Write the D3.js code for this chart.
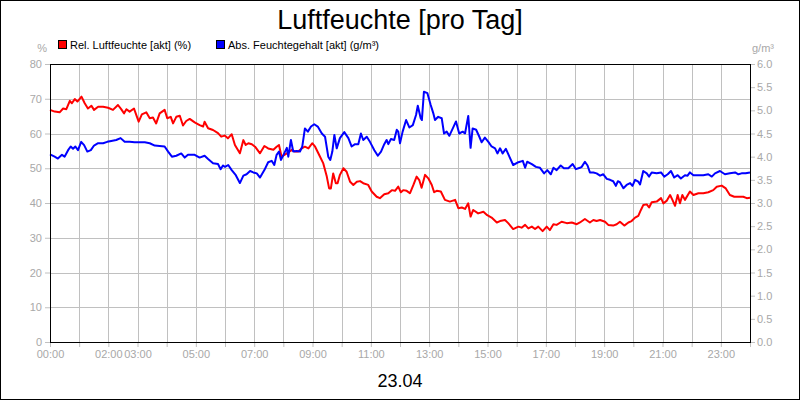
<!DOCTYPE html>
<html>
<head>
<meta charset="utf-8">
<script src="https://cdn.jsdelivr.net/npm/d3@7/dist/d3.min.js"></script>
<style>
  html, body { margin: 0; padding: 0; background: #fff; }
  svg { display: block; font-family: "Liberation Sans", Arial, sans-serif; }
</style>
</head>
<body>
<svg id="chart" width="800" height="400"></svg>
<script>
// ---- data (hours since 00:00 on 23.04) ----
const title = "Luftfeuchte [pro Tag]";
const dateLabel = "23.04";
const seriesNames = ["Rel. Luftfeuchte [akt] (%)", "Abs. Feuchtegehalt [akt] (g/m³)"];
const xTickLabels = ["00:00","02:00","03:00","05:00","07:00","09:00","11:00","13:00","15:00","17:00","19:00","21:00","23:00"];
const xTickLabelHours = [0,2,3,5,7,9,11,13,15,17,19,21,23];
const leftTicks = [0,10,20,30,40,50,60,70,80];
const rightTicks = [0,0.5,1,1.5,2,2.5,3,3.5,4,4.5,5,5.5,6];

const relTimes = [0.00,0.16,0.33,0.45,0.56,0.68,0.75,0.85,0.94,1.08,1.19,1.30,1.42,1.51,1.65,1.82,1.99,2.16,2.33,2.44,2.54,2.62,2.73,2.88,2.96,3.04,3.15,3.30,3.42,3.53,3.64,3.76,3.93,4.02,4.14,4.22,4.33,4.45,4.56,4.67,4.79,4.96,5.13,5.25,5.30,5.42,5.59,5.76,5.87,5.99,6.10,6.23,6.34,6.51,6.63,6.71,6.80,6.92,7.03,7.20,7.35,7.48,7.66,7.77,7.85,7.94,8.12,8.29,8.40,8.51,8.63,8.74,8.86,8.99,9.09,9.20,9.37,9.49,9.57,9.63,9.71,9.80,9.86,9.94,10.06,10.17,10.29,10.40,10.52,10.63,10.74,10.91,11.03,11.20,11.31,11.46,11.60,11.72,11.83,11.94,12.03,12.11,12.23,12.34,12.46,12.57,12.66,12.74,12.86,12.97,13.09,13.17,13.26,13.40,13.54,13.71,13.89,14.00,14.12,14.23,14.34,14.42,14.51,14.68,14.86,14.99,15.14,15.32,15.43,15.60,15.71,15.88,16.06,16.17,16.29,16.40,16.52,16.63,16.74,16.89,17.03,17.14,17.26,17.37,17.54,17.72,17.89,18.06,18.17,18.34,18.51,18.63,18.74,18.86,19.03,19.14,19.31,19.43,19.54,19.69,19.83,19.94,20.06,20.17,20.26,20.34,20.46,20.54,20.63,20.80,20.95,21.03,21.14,21.26,21.34,21.43,21.52,21.60,21.68,21.77,21.94,22.06,22.23,22.40,22.57,22.74,22.86,23.03,23.17,23.31,23.46,23.60,23.77,23.89,24.00];
const relValues = [66.8,66.3,66.1,67.2,67.0,69.4,68.7,69.9,69.2,70.6,68.7,67.2,68.0,66.8,67.7,67.7,67.4,66.8,68.2,67.0,65.8,67.0,66.3,67.2,65.3,63.4,65.5,66.1,64.4,64.6,62.9,65.8,66.8,64.4,64.8,62.9,64.8,65.1,62.3,63.6,64.2,63.2,62.4,62.0,63.4,61.5,61.0,60.1,59.1,59.4,58.6,59.8,56.7,54.3,58.1,56.7,57.2,56.9,56.2,54.3,56.4,55.7,55.3,56.2,56.7,53.3,54.3,55.3,54.8,54.8,55.7,56.2,55.7,57.2,56.2,54.3,51.4,47.6,44.2,44.2,48.5,45.7,45.7,48.1,50.0,49.0,46.1,45.2,46.1,46.3,45.7,45.2,43.3,41.8,41.4,42.5,42.8,43.7,43.5,44.7,43.1,43.7,43.5,42.8,45.2,47.6,46.6,44.4,48.1,47.1,45.2,43.1,43.5,43.3,40.9,40.4,40.9,38.5,38.7,38.3,39.9,36.1,38.0,37.0,37.5,36.5,35.8,34.4,34.8,35.1,34.2,32.5,33.2,32.9,33.7,32.7,33.2,32.5,33.2,31.9,33.2,32.2,33.9,33.7,34.6,34.2,34.4,33.9,34.4,35.4,34.4,35.1,34.8,35.1,34.6,33.7,33.5,33.9,34.6,33.5,34.4,34.8,35.8,36.3,38.0,39.4,39.6,38.7,40.2,40.4,41.4,39.9,40.6,42.3,40.9,39.2,42.3,39.9,42.3,40.9,43.3,42.3,42.8,42.8,43.1,43.7,44.7,45.0,44.2,42.3,41.8,41.8,41.8,41.4,41.5];

const absTimes = [0.00,0.16,0.27,0.41,0.50,0.62,0.71,0.79,0.87,0.96,1.07,1.17,1.28,1.40,1.51,1.65,1.82,1.96,2.10,2.27,2.42,2.56,2.73,2.90,3.08,3.25,3.42,3.59,3.76,3.93,4.05,4.18,4.33,4.50,4.62,4.73,4.96,5.13,5.30,5.42,5.59,5.76,5.85,5.93,6.00,6.11,6.23,6.37,6.51,6.63,6.74,6.86,6.97,7.09,7.20,7.35,7.48,7.60,7.69,7.77,7.85,7.92,8.03,8.12,8.17,8.26,8.34,8.46,8.57,8.65,8.74,8.84,8.95,9.06,9.18,9.32,9.43,9.54,9.61,9.68,9.75,9.83,9.94,10.09,10.23,10.34,10.46,10.57,10.66,10.74,10.86,10.97,11.12,11.24,11.35,11.46,11.54,11.60,11.69,11.80,11.89,11.94,12.00,12.09,12.21,12.32,12.44,12.55,12.61,12.71,12.75,12.82,12.94,13.05,13.14,13.20,13.31,13.43,13.51,13.60,13.69,13.81,13.92,14.03,14.15,14.23,14.34,14.42,14.49,14.61,14.72,14.80,14.91,15.03,15.14,15.26,15.34,15.43,15.52,15.63,15.75,15.88,16.06,16.21,16.29,16.36,16.52,16.66,16.80,16.94,17.05,17.17,17.26,17.37,17.51,17.62,17.77,17.92,18.03,18.17,18.23,18.34,18.43,18.51,18.63,18.74,18.86,18.97,19.09,19.20,19.31,19.40,19.47,19.54,19.66,19.77,19.89,19.97,20.06,20.17,20.23,20.34,20.46,20.54,20.63,20.80,20.95,21.06,21.18,21.29,21.40,21.52,21.63,21.77,21.86,21.94,22.06,22.23,22.40,22.57,22.69,22.80,22.97,23.14,23.31,23.49,23.60,23.71,23.85,24.00];
const absValues = [4.05,4.00,3.96,4.04,4.00,4.14,4.22,4.17,4.22,4.14,4.32,4.25,4.11,4.14,4.24,4.29,4.29,4.32,4.34,4.36,4.40,4.32,4.32,4.31,4.31,4.31,4.29,4.24,4.23,4.22,4.11,4.00,4.02,4.07,3.98,4.04,4.04,3.98,4.02,3.95,3.86,3.84,3.73,3.81,3.78,3.82,3.71,3.60,3.43,3.59,3.62,3.69,3.66,3.64,3.55,3.71,3.88,3.91,3.82,4.04,4.11,3.93,4.07,4.19,4.00,4.36,4.11,4.12,4.11,4.22,4.61,4.54,4.65,4.70,4.65,4.50,4.43,4.00,3.93,4.11,4.47,4.18,4.40,4.53,4.40,4.22,4.27,4.27,4.50,4.36,4.43,4.32,4.14,4.02,4.11,4.27,4.36,4.27,4.38,4.36,4.58,4.54,4.29,4.54,4.79,4.63,4.68,4.90,5.10,4.83,4.79,5.40,5.37,5.12,4.94,4.79,4.86,4.83,4.50,4.54,4.45,4.61,4.76,4.50,4.54,4.50,4.88,4.19,4.61,4.58,4.43,4.31,4.41,4.32,4.22,4.18,4.07,4.18,4.07,4.17,4.00,3.82,3.88,3.91,3.76,3.89,3.84,3.78,3.76,3.64,3.71,3.62,3.76,3.71,3.81,3.75,3.75,3.84,3.73,3.76,3.78,3.89,3.81,3.66,3.66,3.64,3.59,3.62,3.52,3.50,3.47,3.37,3.47,3.45,3.32,3.39,3.43,3.37,3.50,3.46,3.40,3.69,3.64,3.57,3.66,3.64,3.66,3.57,3.62,3.69,3.55,3.60,3.53,3.60,3.59,3.66,3.60,3.60,3.60,3.62,3.57,3.64,3.69,3.62,3.64,3.66,3.62,3.64,3.64,3.66];

// ---- layout ----
const W = 800, H = 400;
const m = { left: 50, top: 64, right: 50, bottom: 58 };
const iw = W - m.left - m.right, ih = H - m.top - m.bottom;
const gridColor = "#c0c0c0", tickTextColor = "#a8a8a8";

const svg = d3.select("#chart");
svg.append("rect").attr("x", 0.5).attr("y", 0.5).attr("width", W - 1).attr("height", H - 1)
  .attr("fill", "#fff").attr("stroke", "#000");

const x = d3.scaleLinear().domain([0, 24]).range([0, iw]);
const yL = d3.scaleLinear().domain([0, 80]).range([ih, 0]);
const yR = d3.scaleLinear().domain([0, 6]).range([ih, 0]);

const g = svg.append("g").attr("transform", `translate(${m.left},${m.top})`);

// grid
const hours = d3.range(0, 25);
g.append("g").selectAll("line").data(hours.slice(1, -1)).join("line")
  .attr("x1", d => Math.round(x(d)) + 0.5).attr("x2", d => Math.round(x(d)) + 0.5)
  .attr("y1", 0).attr("y2", ih).attr("stroke", gridColor);
g.append("g").selectAll("line").data(leftTicks.slice(1, -1)).join("line")
  .attr("y1", d => Math.round(yL(d)) + 0.5).attr("y2", d => Math.round(yL(d)) + 0.5)
  .attr("x1", 0).attr("x2", iw).attr("stroke", gridColor);

// axes
function styleAxis(sel) {
  sel.select(".domain").remove();
  sel.selectAll(".tick line").attr("stroke", gridColor);
  sel.selectAll(".tick text").attr("fill", tickTextColor).style("font-size", "11px")
    .style("font-family", "'Liberation Sans', Arial, sans-serif");
}
const labelMap = new Map(xTickLabelHours.map((h, i) => [h, xTickLabels[i]]));
g.append("g").attr("transform", `translate(0,${ih})`)
  .call(d3.axisBottom(x).tickValues(hours).tickSize(5).tickPadding(3)
    .tickFormat(d => labelMap.get(d) || ""))
  .call(styleAxis);
g.append("g")
  .call(d3.axisLeft(yL).tickValues(leftTicks).tickSize(5).tickPadding(3).tickFormat(d3.format("d")))
  .call(styleAxis);
g.append("g").attr("transform", `translate(${iw},0)`)
  .call(d3.axisRight(yR).tickValues(rightTicks).tickSize(5).tickPadding(2).tickFormat(d3.format(".1f")))
  .call(styleAxis);

// lines
const relData = relTimes.map((t, i) => [t, relValues[i]]);
const absData = absTimes.map((t, i) => [t, absValues[i]]);
g.append("path").datum(relData)
  .attr("d", d3.line().x(d => x(d[0])).y(d => yL(d[1])))
  .attr("fill", "none").attr("stroke", "#ff0000").attr("stroke-width", 2).attr("stroke-linejoin", "round");
g.append("path").datum(absData)
  .attr("d", d3.line().x(d => x(d[0])).y(d => yR(d[1])))
  .attr("fill", "none").attr("stroke", "#0000ff").attr("stroke-width", 2).attr("stroke-linejoin", "round");

// frame
g.append("rect").attr("x", 0.5).attr("y", 0.5).attr("width", iw).attr("height", ih)
  .attr("fill", "none").attr("stroke", "#000");

// unit labels
svg.append("text").attr("x", 47).attr("y", 52).attr("text-anchor", "end")
  .attr("fill", tickTextColor).style("font-size", "11px").text("%");
svg.append("text").attr("x", 752).attr("y", 52).attr("text-anchor", "start")
  .attr("fill", tickTextColor).style("font-size", "11px").text("g/m³");

// legend
const legendX = [58, 216];
const legendColors = ["#ff0000", "#0000ff"];
seriesNames.forEach((name, i) => {
  svg.append("rect").attr("x", legendX[i] + 0.5).attr("y", 40.5).attr("width", 8).attr("height", 8)
    .attr("fill", legendColors[i]).attr("stroke", "#000");
  svg.append("text").attr("x", legendX[i] + 12).attr("y", 48.5).attr("fill", "#000")
    .style("font-size", "11px").text(name);
});

// title & date
svg.append("text").attr("x", 400).attr("y", 29).attr("text-anchor", "middle")
  .attr("fill", "#000").style("font-size", "27px").text(title);
svg.append("text").attr("x", 400).attr("y", 387).attr("text-anchor", "middle")
  .attr("fill", "#000").style("font-size", "18px").text(dateLabel);
</script>
</body>
</html>
